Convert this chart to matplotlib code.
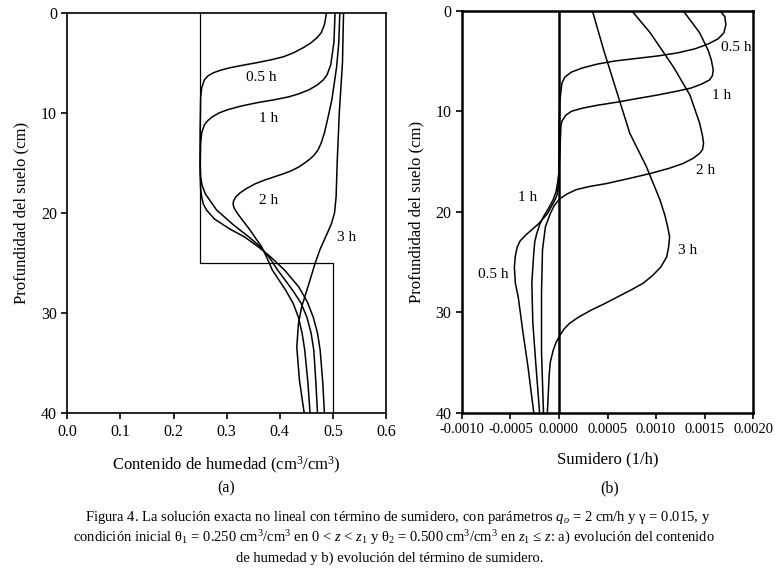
import matplotlib
matplotlib.use("Agg")
import matplotlib.pyplot as plt

plt.rcParams['font.family'] = ['Liberation Serif', 'DejaVu Serif']
plt.rcParams['mathtext.fontset'] = 'custom'
plt.rcParams['mathtext.rm'] = 'Liberation Serif'
plt.rcParams['mathtext.it'] = 'Liberation Serif:italic'

# (a) moisture content profiles, depth in cm
ini_depth = [0, 25, 25, 40]
ini_theta = [0.25, 0.25, 0.50, 0.50]

a05_depth = [0, 1.2, 2.0, 2.5, 3.0, 3.5, 4.0, 4.4, 4.7, 5.0, 5.25, 5.5, 5.75, 6.0, 6.3,
             6.7, 7.5, 8.5, 12, 16, 17.6, 18.4, 19.1, 19.7, 20.6, 21.6, 22.4, 23.4,
             24.4, 25.7, 27.4, 28.9, 30.4, 32, 33.7, 37, 40]
a05_theta = [0.488, 0.484, 0.478, 0.470, 0.459, 0.444, 0.426, 0.407, 0.384, 0.356, 0.330,
             0.306, 0.288, 0.275, 0.265, 0.258, 0.253, 0.251, 0.250, 0.250, 0.251, 0.253,
             0.256, 0.262, 0.277, 0.306, 0.334, 0.360, 0.383, 0.409, 0.436, 0.452, 0.463,
             0.471, 0.476, 0.481, 0.484]

a1_depth = [0, 2.9, 5.2, 6.2, 6.7, 7.2, 7.7, 8.1, 8.4, 8.7, 9.0, 9.35, 9.7, 10.0, 10.4,
            10.8, 11.2, 12.0, 13.0, 15, 16.4, 17.3, 18.1, 19.7, 21.2, 22.4, 23.4, 24.5,
            25.7, 27.7, 29, 30.4, 32, 33.7, 37, 40]
a1_theta = [0.504, 0.502, 0.496, 0.489, 0.482, 0.471, 0.455, 0.436, 0.417, 0.389, 0.356,
            0.325, 0.301, 0.286, 0.273, 0.264, 0.258, 0.253, 0.251, 0.250, 0.251, 0.254,
            0.260, 0.281, 0.313, 0.342, 0.364, 0.381, 0.396, 0.424, 0.440, 0.451, 0.459,
            0.464, 0.468, 0.471]

a2_depth = [0, 3, 5.4, 8.7, 10.4, 12.0, 13.0, 13.7, 14.2, 14.6, 15.0, 15.4, 15.8, 16.1,
            16.4, 16.7, 17.1, 17.6, 18.0, 18.4, 18.8, 19.1, 19.5, 20.1, 21.7, 23.4, 24.5,
            25.7, 27.7, 29, 30.4, 32, 33.7, 37, 40]
a2_theta = [0.513, 0.511, 0.507, 0.498, 0.491, 0.484, 0.478, 0.472, 0.465, 0.457, 0.447,
            0.436, 0.421, 0.406, 0.389, 0.372, 0.353, 0.336, 0.325, 0.317, 0.313, 0.312,
            0.314, 0.321, 0.344, 0.366, 0.376, 0.386, 0.411, 0.425, 0.435, 0.442, 0.447,
            0.453, 0.457]

a3_depth = [0, 5, 10, 15, 18.4, 20, 21.1, 22.3, 23.6, 25.1, 26.5, 27.7, 29.4, 31.1, 33.4,
            36.7, 40]
a3_theta = [0.520, 0.518, 0.512, 0.508, 0.506, 0.503, 0.497, 0.487, 0.476, 0.466, 0.458,
            0.451, 0.441, 0.435, 0.432, 0.437, 0.446]

# (b) sink term profiles (1/h)
b05_depth = [0, 0.6, 1.4, 2.2, 2.8, 3.3, 3.8, 4.2, 4.5, 4.75, 5.0, 5.3, 5.7, 6.1, 6.6,
             7.2, 8.9, 12, 16, 17.5, 18.3, 18.8, 19.5, 20.2, 21.2, 22.3, 22.9, 23.5,
             24.4, 25.5, 27.1, 28.5, 32.1, 35.4, 40]
b05_sink = [0.00166, 0.00171, 0.00172, 0.00170, 0.00164, 0.00154, 0.00140, 0.00122,
            0.00102, 0.00080, 0.00058, 0.00040, 0.00024, 0.00013, 0.00006, 0.00003,
            0.00001, 0.0, 0.0, -0.00001, -0.00002, -0.00004, -0.00008, -0.00012, -0.00021,
            -0.00034, -0.00040, -0.00043, -0.00045, -0.00046, -0.00045, -0.00042,
            -0.00037, -0.00032, -0.00026]

b1_depth = [0, 2.2, 4.0, 4.9, 5.9, 6.5, 6.9, 7.3, 7.7, 8.0, 8.4, 8.75, 9.1, 9.4, 9.7,
            10.0, 10.4, 11.0, 11.5, 13.9, 16.0, 16.9, 18.0, 18.8, 19.7, 20.5, 21.3, 22.2,
            23.0, 24.1, 27.1, 31, 35, 40]
b1_sink = [0.00128, 0.00145, 0.00154, 0.00157, 0.00159, 0.00158, 0.00155, 0.00147,
           0.00136, 0.00122, 0.00101, 0.00080, 0.00060, 0.00040, 0.00024, 0.00013,
           0.00007, 0.00003, 0.00002, 0.00001, 0.0, -0.00001, -0.00003, -0.00006,
           -0.00011, -0.00016, -0.00020, -0.00023, -0.00025, -0.00026, -0.00028,
           -0.00027, -0.00024, -0.00020]

b2_depth = [0, 2.2, 5.6, 8.4, 11.2, 12.5, 13.2, 13.8, 14.2, 14.7, 15.2, 15.7, 16.2, 16.7,
            17.2, 17.5, 17.8, 18.2, 18.5, 18.8, 19.4, 20.2, 21.5, 23.8, 28, 34, 40]
b2_sink = [0.00075, 0.00094, 0.00118, 0.00135, 0.00145, 0.00148, 0.00149, 0.00148,
           0.00145, 0.00138, 0.00128, 0.00113, 0.00094, 0.00072, 0.00049, 0.00031,
           0.00018, 0.00009, 0.00004, 0.00000, -0.00005, -0.00009, -0.00014, -0.00017,
           -0.00018, -0.00018, -0.00016]

b3_depth = [0, 3.9, 7.9, 12.2, 15.5, 18.8, 20.3, 21.5, 22.5, 23.5, 24.5, 25.5, 26.3,
            27.1, 27.8, 28.5, 29.2, 29.8, 30.5, 31.1, 31.7, 32.3, 33.0, 33.8, 35,
            36.1, 40]
b3_sink = [0.000344, 0.00046, 0.00059, 0.00073, 0.00090, 0.00104, 0.00109, 0.00112,
           0.00114, 0.00113, 0.00111, 0.00105, 0.00097, 0.00087, 0.00074, 0.00060,
           0.00046, 0.00033, 0.00020, 0.00011, 0.00005, 0.00001, -0.00003, -0.00006,
           -0.00009, -0.00010, -0.00012]

a_ticks = [0.0, 0.1, 0.2, 0.3, 0.4, 0.5, 0.6]
b_ticks = [-0.0010, -0.0005, 0.0000, 0.0005, 0.0010, 0.0015, 0.0020]
depth_ticks = [0, 10, 20, 30, 40]

fig = plt.figure(figsize=(7.78, 5.69), dpi=100)
ax1 = fig.add_axes([0.0865, 0.2736, 0.4097, 0.7041])
ax2 = fig.add_axes([0.5938, 0.2747, 0.3741, 0.7065])

lw = 1.1
ax1.plot(ini_theta, ini_depth, color='black', lw=0.9)
for d, t in [(a05_depth, a05_theta), (a1_depth, a1_theta), (a2_depth, a2_theta),
             (a3_depth, a3_theta)]:
    ax1.plot(t, d, color='black', lw=lw)
ax1.set_xlim(0, 0.6)
ax1.set_ylim(40, 0)
ax1.set_xticks(a_ticks)
ax1.set_xticklabels([f"{v:.1f}" for v in a_ticks])
ax1.set_yticks(depth_ticks)
for s in ax1.spines.values():
    s.set_linewidth(1.2)
ax1.set_ylabel("Profundidad del suelo (cm)", fontsize=12, labelpad=8)
ax1.set_xlabel("Contenido de humedad (cm$^3$/cm$^3$)", fontsize=12, labelpad=11)
ax1.text(0.365, 6.5, "0.5 h", fontsize=11, ha='center', va='center')
ax1.text(0.378, 10.6, "1 h", fontsize=11, ha='center', va='center')
ax1.text(0.378, 18.8, "2 h", fontsize=11, ha='center', va='center')
ax1.text(0.525, 22.4, "3 h", fontsize=11, ha='center', va='center')

ax2.axvline(0, color='black', lw=1.8)
for d, s in [(b05_depth, b05_sink), (b1_depth, b1_sink), (b2_depth, b2_sink),
             (b3_depth, b3_sink)]:
    ax2.plot(s, d, color='black', lw=lw)
ax2.set_xlim(-0.001, 0.002)
ax2.set_ylim(40, 0)
ax2.set_xticks(b_ticks)
ax2.set_xticklabels([f"{v:.4f}" for v in b_ticks])
ax2.set_yticks(depth_ticks)
for s in ax2.spines.values():
    s.set_linewidth(1.8)
ax2.set_ylabel("Profundidad del suelo (cm)", fontsize=12, labelpad=8)
ax2.set_xlabel("Sumidero (1/h)", fontsize=12, labelpad=11)
ax2.text(0.00183, 3.7, "0.5 h", fontsize=11, ha='center', va='center')
ax2.text(0.00168, 8.4, "1 h", fontsize=11, ha='center', va='center')
ax2.text(0.00151, 15.9, "2 h", fontsize=11, ha='center', va='center')
ax2.text(-0.00032, 18.6, "1 h", fontsize=11, ha='center', va='center')
ax2.text(0.00133, 23.9, "3 h", fontsize=11, ha='center', va='center')
ax2.text(-0.00068, 26.2, "0.5 h", fontsize=11, ha='center', va='center')

for ax in (ax1, ax2):
    ax.tick_params(direction='out', length=4, width=1.2, labelsize=11.5,
                   top=False, right=False)
ax2.tick_params(axis='x', labelsize=10.5)

fig.text(226 / 778, 1 - 488 / 569, "(a)", fontsize=11.5, ha='center', va='center')
fig.text(610 / 778, 1 - 488 / 569, "(b)", fontsize=11.5, ha='center', va='center')

cap1 = ("Figura 4. La solución exacta no lineal con término de sumidero, con parámetros "
        "$q_o$ = 2 cm/h y γ = 0.015, y")
cap2 = ("condición inicial θ$_1$ = 0.250 cm$^3$/cm$^3$ en 0 < $z$ < $z_1$ y θ$_2$ = 0.500 "
        "cm$^3$/cm$^3$ en $z_1$ ≤ $z$: a) evolución del contenido")
cap3 = "de humedad y b) evolución del término de sumidero."
fig.text(398 / 778, 1 - 518 / 569, cap1, fontsize=10.5, ha='center', va='center')
fig.text(394 / 778, 1 - 538 / 569, cap2, fontsize=10.5, ha='center', va='center')
fig.text(390 / 778, 1 - 558 / 569, cap3, fontsize=10.5, ha='center', va='center')

fig.savefig("out.png", dpi=100)
